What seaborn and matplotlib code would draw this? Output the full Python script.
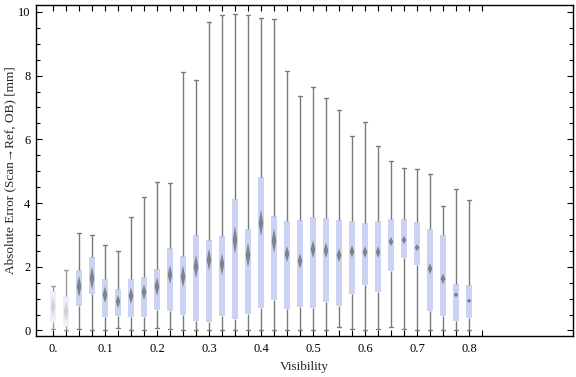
import numpy as np
import pandas as pd
import matplotlib
matplotlib.use("Agg")
import matplotlib.pyplot as plt
import seaborn as sns

# visibility bins and five-number summaries
vis = [0.0, 0.025, 0.05, 0.075, 0.1, 0.125, 0.15, 0.175, 0.2, 0.225, 0.25,
       0.275, 0.3, 0.325, 0.35, 0.375, 0.4, 0.425, 0.45, 0.475, 0.5, 0.525,
       0.55, 0.575, 0.6, 0.625, 0.65, 0.675, 0.7, 0.725, 0.75, 0.775, 0.8]
lo = [0.05, 0.0, 0.04, 0.0, 0.0, 0.07, 0.0, 0.0, 0.07, 0.04, 0.0, 0.0, 0.0,
      0.0, 0.0, 0.0, 0.0, 0.0, 0.0, 0.0, 0.0, 0.0, 0.11, 0.04, 0.0, 0.04,
      0.11, 0.04, 0.02, 0.0, 0.0, 0.0, 0.0]
q1 = [0.28, 0.15, 0.78, 1.13, 0.41, 0.47, 0.41, 0.41, 0.65, 0.60, 0.48, 0.31,
      0.28, 0.44, 0.37, 0.51, 0.72, 0.95, 0.69, 0.75, 0.72, 0.88, 0.76, 1.16,
      1.44, 1.21, 1.88, 2.26, 2.07, 0.60, 0.47, 0.31, 0.38]
med = [0.75, 0.6, 1.38, 1.64, 1.12, 0.91, 1.09, 1.20, 1.38, 1.75, 1.69, 2.01,
       2.22, 2.08, 2.84, 2.37, 3.37, 2.82, 2.40, 2.18, 2.55, 2.51, 2.36, 2.48,
       2.46, 2.46, 2.79, 2.84, 2.60, 1.94, 1.62, 1.12, 0.93]
q3 = [1.25, 1.07, 1.90, 2.32, 1.61, 1.30, 1.61, 1.67, 1.92, 2.58, 2.35, 2.99,
      2.83, 2.96, 4.12, 3.18, 4.82, 3.60, 3.44, 3.47, 3.56, 3.53, 3.47, 3.44,
      3.37, 3.44, 3.50, 3.50, 3.41, 3.19, 3.00, 1.47, 1.43]
hi = [1.40, 1.90, 3.05, 2.99, 2.68, 2.50, 3.57, 4.20, 4.67, 4.64, 8.10, 7.87,
      9.69, 9.89, 9.94, 9.89, 9.82, 9.79, 8.16, 7.35, 7.63, 7.29, 6.92, 6.09,
      6.56, 5.79, 5.31, 5.09, 5.06, 4.90, 3.90, 4.43, 4.10]
# half-height of the median (notch) diamond
notch = [0.3, 0.3, 0.34, 0.36, 0.26, 0.2, 0.26, 0.24, 0.29, 0.29, 0.34, 0.37,
         0.34, 0.34, 0.44, 0.39, 0.42, 0.39, 0.25, 0.24, 0.28, 0.24, 0.21, 0.19,
         0.18, 0.18, 0.14, 0.13, 0.11, 0.17, 0.17, 0.08, 0.07]
faint = [0.0, 0.025]  # sparse bins drawn washed out

# long table: the five summary points give exactly these quartiles
rows = []
for i, v in enumerate(vis):
    for val in (lo[i], q1[i], med[i], q3[i], hi[i]):
        rows.append({"vis": v, "err": val})
df = pd.DataFrame(rows)

sns.set_theme(style="ticks")
plt.rcParams["font.family"] = ["Liberation Serif", "DejaVu Serif"]
plt.rcParams["font.size"] = 9

fig = plt.figure(figsize=(5.76, 3.77), dpi=100)
ax = fig.add_axes([0.0625, 0.109, 0.9323, 0.878])

common = dict(x="vis", y="err", native_scale=True, whis=(0, 100), width=0.5,
              saturation=1, showfliers=False, ax=ax,
              medianprops=dict(linewidth=0))

main = df[~df["vis"].isin(faint)]
sns.boxplot(data=main, color="#cbd3f5", linecolor="#7a7a7a", linewidth=1,
            boxprops=dict(edgecolor="none"), **common)
sub = df[df["vis"].isin(faint)]
sns.boxplot(data=sub, color="#eceffb", linecolor="#9a9a9a", linewidth=1,
            boxprops=dict(edgecolor="none"), **common)

# median diamonds
hw = 0.0045
for i, v in enumerate(vis):
    c = "#cccccc" if v in faint else "#6e6e6e"
    ax.fill([v - hw, v, v + hw, v], [med[i], med[i] + notch[i], med[i], med[i] - notch[i]],
            color=c, alpha=0.8, lw=0, zorder=5)

ax.set_xlim(-0.0327, 1.0)
ax.set_ylim(-0.17, 10.22)

xt = np.arange(0, 0.826, 0.025)
ax.set_xticks(xt)
ax.set_xticklabels(["0." if abs(t) < 1e-9 else (f"{t:.1f}" if abs(t * 10 - round(t * 10)) < 1e-6 else "")
                    for t in xt])
ax.set_yticks([0, 2, 4, 6, 8, 10])
ax.set_yticklabels(["0", "2", "4", "6", "8", "10"])
ax.set_yticks(np.arange(0, 10.01, 0.5), minor=True)
ax.tick_params(axis="both", which="both", direction="in", top=True, right=True,
               labelsize=9, colors="black", width=0.8)
ax.tick_params(axis="both", which="major", length=4.5, pad=4)
ax.tick_params(axis="y", which="minor", length=3)
ax.tick_params(axis="x", which="major", pad=5)

for s in ax.spines.values():
    s.set_color("black")
    s.set_linewidth(1)

ax.set_xlabel("Visibility", fontsize=9.5)
ax.set_ylabel("Absolute Error (Scan\u2192Ref, OB) [mm]", fontsize=9.5)
ax.xaxis.set_label_coords(0.5, -0.077)
ax.yaxis.set_label_coords(-0.036, 0.5)

fig.savefig("out.png", dpi=100)
